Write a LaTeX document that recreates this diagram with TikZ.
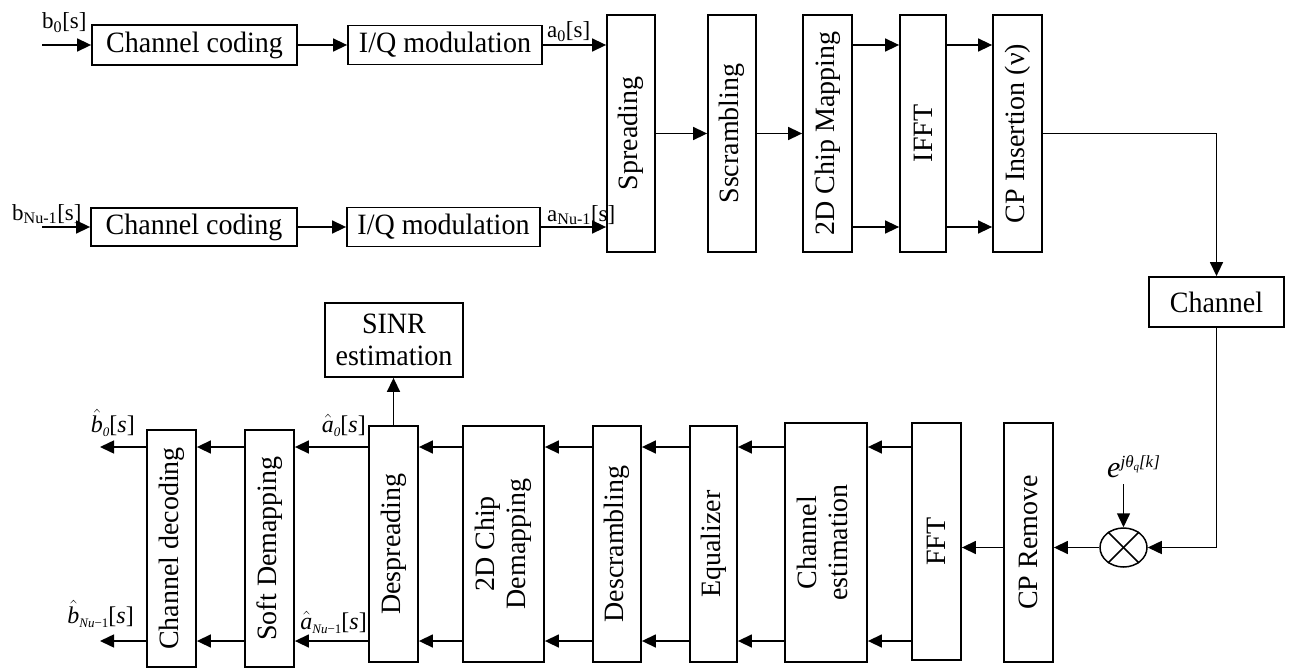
\documentclass[tikz,border=0pt]{standalone}
\usepackage{fontspec}
\setmainfont{Liberation Serif}
\newfontfamily\hfont[FakeStretch=0.95]{Liberation Serif}
\usetikzlibrary{arrows.meta,shapes.geometric}
\newcommand{\hatit}[1]{\ensuremath{\hat{\mbox{\itshape #1}}}}
\newcommand{\twol}[2]{\begin{tabular}{@{}c@{}}#1\\#2\end{tabular}}
\newcommand{\subit}[1]{\raisebox{-4pt}{\fontsize{13}{14}\selectfont\itshape #1}}
\begin{document}
\begin{tikzpicture}[x=1pt,y=-1pt,
  box/.style={draw, line width=1.8pt, inner sep=0pt, font=\fontsize{28}{31}\selectfont, align=center},
  hbox/.style={box, font=\hfont\fontsize{29.5}{32}\selectfont},
  ar/.style={line width=1.5pt, -{Triangle[length=14pt,width=13pt]}},
  ln/.style={line width=1.5pt},
  lbl/.style={inner sep=0pt, font=\fontsize{23}{25}\selectfont},
  hlbl/.style={inner sep=0pt, font=\fontsize{24}{26}\selectfont}]
\useasboundingbox (0,0) rectangle (1289,671);

% ---------- transmitter ----------
\node[hbox, minimum width=205pt, minimum height=40pt] (cc1) at (194.5,45) {Channel coding};
\node[hbox, minimum width=194pt, minimum height=39pt] (iq1) at (445,45) {I/Q modulation};
\node[hbox, minimum width=206pt, minimum height=38pt] (cc2) at (194,227) {Channel coding};
\node[hbox, minimum width=193pt, minimum height=39pt] (iq2) at (443.5,227) {I/Q modulation};

\node[box, minimum width=48pt, minimum height=237pt] (spr) at (631,133.5) {\rotatebox{90}{Spreading}};
\node[box, minimum width=48pt, minimum height=237pt] (scr) at (732,133.5) {\rotatebox{90}{Sscrambling}};
\node[box, minimum width=49pt, minimum height=237pt] (map) at (827.5,133.5) {\rotatebox{90}{2D Chip Mapping}};
\node[box, minimum width=46pt, minimum height=237pt] (ifft) at (923,133.5) {\rotatebox{90}{IFFT}};
\node[box, minimum width=49pt, minimum height=237pt] (cpi) at (1017.5,133.5) {\rotatebox{90}{CP Insertion (ν)}};

\node[hbox, minimum width=135pt, minimum height=50pt] (chan) at (1216.5,302) {Channel};

\coordinate (in1) at (42,45);
\coordinate (in2) at (42,227);
\node[lbl, anchor=base west] (b0l) at (42,29) {b\textsubscript{0}[s]};
\node[lbl, anchor=base west] (bnl) at (12,220) {b\textsubscript{Nu-1}[s]};
\node[lbl, anchor=base west] (a0l) at (547,38) {a\textsubscript{0}[s]};
\node[lbl, anchor=base west] (anl) at (547,221) {a\textsubscript{Nu-1}[s]};

\draw[ar] (in1) -- (cc1.west);
\draw[ar] (in2) -- (cc2.west);
\draw[ar] (cc1.east) -- (iq1.west);
\draw[ar] (cc2.east) -- (iq2.west);
\draw[ar] (iq1.east) -- (iq1.east -| spr.west);
\draw[ar] (iq2.east) -- (iq2.east -| spr.west);
\draw[ar] (spr.east) -- (scr.west);
\draw[ar] (scr.east) -- (map.west);
\draw[ar] (map.east |- iq1.east) -- (ifft.west |- iq1.east);
\draw[ar] (map.east |- iq2.east) -- (ifft.west |- iq2.east);
\draw[ar] (ifft.east |- iq1.east) -- (cpi.west |- iq1.east);
\draw[ar] (ifft.east |- iq2.east) -- (cpi.west |- iq2.east);
\draw[ar] (cpi.east) -| (chan.north);

% ---------- receiver ----------
\node[draw, ellipse, line width=1.5pt, minimum width=47pt, minimum height=39pt, inner sep=0pt] (mix) at (1123.5,547.5) {};
\draw[ln] (mix.45) -- (mix.225);
\draw[ln] (mix.135) -- (mix.315);
\node[inner sep=0pt, anchor=base west] (ph) at (1107,477) {\fontsize{30}{32}\selectfont\textit{e}\raisebox{10pt}{\fontsize{17}{18}\selectfont\itshape jθ\raisebox{-3pt}{\fontsize{11}{12}\selectfont q}[k]}};
\coordinate (phs) at (1123.5,484);

\node[box, minimum width=49pt, minimum height=239pt] (cpr) at (1028.5,542.5) {\rotatebox{90}{CP Remove}};
\node[box, minimum width=49pt, minimum height=237pt] (fft) at (936.5,541.5) {\rotatebox{90}{FFT}};
\node[box, minimum width=82pt, minimum height=239pt] (chest) at (826,542.5) {\rotatebox{90}{\twol{Channel}{estimation}}};
\node[box, minimum width=47pt, minimum height=236pt] (eq) at (713.5,544) {\rotatebox{90}{Equalizer}};
\node[box, minimum width=48pt, minimum height=236pt] (dsc) at (617,544) {\rotatebox{90}{Descrambling}};
\node[box, minimum width=81pt, minimum height=236pt] (dmap) at (503.5,544) {\rotatebox{90}{\twol{2D Chip}{Demapping}}};
\node[box, minimum width=49pt, minimum height=236pt] (dsp) at (393.5,544) {\rotatebox{90}{Despreading}};
\node[box, minimum width=49pt, minimum height=237pt] (soft) at (269.5,548.5) {\rotatebox{90}{Soft Demapping}};
\node[box, minimum width=49pt, minimum height=237pt] (cdec) at (171.5,548.5) {\rotatebox{90}{Channel decoding}};
\node[hbox, minimum width=138pt, minimum height=74pt] (sinr) at (394,340) {SINR\\estimation};

\coordinate (r1) at (0,447);
\coordinate (r2) at (0,641);
\coordinate (o1) at (100,447);
\coordinate (o2) at (100,641);

\draw[ar] (chan.south) |- (mix.east);
\draw[ar] (phs) -- (mix.north);
\draw[ar] (mix.west) -- (mix.west -| cpr.east);
\draw[ar] (cpr.west |- mix.west) -- (fft.east |- mix.west);
\draw[ar] (fft.west |- r1) -- (chest.east |- r1);
\draw[ar] (fft.west |- r2) -- (chest.east |- r2);
\draw[ar] (chest.west |- r1) -- (eq.east |- r1);
\draw[ar] (chest.west |- r2) -- (eq.east |- r2);
\draw[ar] (eq.west |- r1) -- (dsc.east |- r1);
\draw[ar] (eq.west |- r2) -- (dsc.east |- r2);
\draw[ar] (dsc.west |- r1) -- (dmap.east |- r1);
\draw[ar] (dsc.west |- r2) -- (dmap.east |- r2);
\draw[ar] (dmap.west |- r1) -- (dsp.east |- r1);
\draw[ar] (dmap.west |- r2) -- (dsp.east |- r2);
\draw[ar] (dsp.west |- r1) -- (soft.east |- r1);
\draw[ar] (dsp.west |- r2) -- (soft.east |- r2);
\draw[ar] (soft.west |- r1) -- (cdec.east |- r1);
\draw[ar] (soft.west |- r2) -- (cdec.east |- r2);
\draw[ar] (cdec.west |- r1) -- (o1);
\draw[ar] (cdec.west |- r2) -- (o2);
\draw[ar] (dsp.north) -- (dsp.north |- sinr.south);

\node[hlbl, anchor=base east] (b0h) at (135,432) {\hatit{b}\subit{0}[\textit{s}]};
\node[hlbl, anchor=base east] (a0h) at (366,432) {\hatit{a}\subit{0}[\textit{s}]};
\node[hlbl, anchor=base east] (bnh) at (134,623) {\hatit{b}\subit{Nu\upshape −1}[\textit{s}]};
\node[hlbl, anchor=base east] (anh) at (367,629) {\hatit{a}\subit{Nu\upshape −1}[\textit{s}]};
\end{tikzpicture}
\end{document}
